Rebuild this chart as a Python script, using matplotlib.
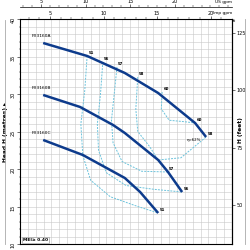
import numpy as np
import matplotlib.pyplot as plt

# pump curves, Q in m3/h, H in m
qA = [1.19, 2.31, 3.27, 4.12, 5.06, 5.34]
hA = [36.8, 35.07, 32.8, 30.13, 26.13, 24.27]
qB = [1.19, 2.13, 2.97, 3.27, 4.12, 4.37, 4.73]
hB = [29.87, 28.27, 25.87, 24.8, 21.2, 19.6, 16.93]
qC = [1.19, 2.2, 3.27, 3.66, 4.12]
hC = [23.87, 21.87, 18.8, 16.93, 14.13]
names = ["FX3160A", "FX3160B", "FX3160C"]

# iso-efficiency lines
eff_q = [
    [2.31, 2.25, 2.15, 2.2, 2.4, 2.9, 3.6, 4.12],
    [2.71, 2.65, 2.57, 2.6, 2.8, 3.3, 4.0, 4.73],
    [3.07, 3.0, 2.93, 2.97, 3.2, 3.7, 4.37],
    [3.6, 3.55, 3.6, 3.9, 4.12, 4.7, 5.34],
    [4.22, 4.2, 4.4, 4.8, 5.06],
]
eff_h = [
    [35.07, 30.5, 26.0, 21.8, 18.5, 16.3, 15.0, 14.13],
    [34.27, 30.0, 26.0, 22.5, 19.5, 17.8, 17.3, 16.93],
    [33.6, 30.0, 26.5, 23.5, 21.0, 19.7, 19.6],
    [32.27, 28.0, 25.0, 23.0, 21.2, 21.5, 24.27],
    [30.27, 28.0, 26.5, 26.3, 26.13],
]
eff_lbl = ["51", "56", "57", "58", "60"]

fig = plt.figure(figsize=(2.5, 2.5), dpi=100)
ax = fig.add_axes([0.08, 0.024, 0.848, 0.9])
navy = "#0d3b8c"
cyan = "#6cc3dc"

for q, h in zip(eff_q, eff_h):
    ax.plot(q, h, color=cyan, lw=0.7, ls=(0, (2, 1.2)), zorder=2)
for q, h, l in zip(eff_q, eff_h, eff_lbl):
    ax.text(q[0] + 0.03, h[0] + 0.3, l, fontsize=2.8, fontweight="bold", zorder=5)
    ax.text(q[-1] + 0.03, h[-1] + 0.3, l, fontsize=2.8, fontweight="bold", zorder=5)

for q, h, n in zip([qA, qB, qC], [hA, hB, hC], names):
    ax.plot(q, h, color=navy, lw=1.8, solid_capstyle="butt", zorder=4)
    ax.text(q[0] - 0.3, h[0] + 0.8, n, fontsize=3.2, zorder=5)
ax.text(4.85, 23.8, "η=62%", fontsize=2.8, zorder=5)

ax.set_xlim(0.6, 6.0)
ax.set_ylim(10, 40)
ax.set_xticks(np.arange(0.6, 6.01, 0.2))
ax.grid(True, color="#c8c8c8", lw=0.4)
ax.tick_params(axis="x", bottom=False, labelbottom=False, top=False)
ax.set_yticks(np.arange(10, 41, 5))
ax.set_yticks(np.arange(10, 41, 1), minor=True)
ax.grid(True, which="minor", axis="y", color="#c8c8c8", lw=0.4)
ax.tick_params(axis="y", which="major", labelsize=3.5, length=2, width=0.4, pad=1, labelrotation=90)
ax.tick_params(axis="y", which="minor", length=1, width=0.3)
for s in ax.spines.values():
    s.set_linewidth(0.8)
ax.set_ylabel("Head H (metres) ▸", fontsize=4.2, fontweight="bold", labelpad=2)

# top scales
imp = ax.secondary_xaxis("top", functions=(lambda x: x * 3.666, lambda x: x / 3.666))
imp.set_xticks([5, 10, 15, 20])
imp.set_xticks(np.arange(3, 23, 1), minor=True)
imp.tick_params(labelsize=3.5, length=2, width=0.4, pad=0.5)
imp.tick_params(which="minor", length=1.2, width=0.3)
imp.spines["top"].set_linewidth(0.5)
us = ax.secondary_xaxis(1.053, functions=(lambda x: x * 4.403, lambda x: x / 4.403))
us.set_xticks([5, 10, 15, 20])
us.set_xticks(np.arange(3, 27, 1), minor=True)
us.tick_params(labelsize=3.5, length=2, width=0.4, pad=0.5)
us.tick_params(which="minor", length=1.2, width=0.3)
us.spines["top"].set_linewidth(0.5)
fig.text(0.928, 0.940, "Imp gpm", fontsize=3.2, ha="right", va="bottom")
fig.text(0.928, 0.985, "US gpm", fontsize=3.2, ha="right", va="bottom")
fig.text(0.932, 0.915, "ft", fontsize=3.2, ha="left", va="center")

# feet scale
ft = ax.secondary_yaxis("right", functions=(lambda x: x * 3.2808, lambda x: x / 3.2808))
ft.set_yticks([50, 75, 100, 125])
ft.set_yticks(np.arange(35, 131, 5), minor=True)
ft.tick_params(labelsize=3.5, length=2, width=0.4, pad=1)
ft.tick_params(which="minor", length=1, width=0.3)
fig.text(0.962, 0.48, "H (feet)", fontsize=4.2, fontweight="bold", rotation=90,
         ha="center", va="center")

ax.text(0.012, 0.012, "MEI≥ 0.40", transform=ax.transAxes, fontsize=3.2,
        fontweight="bold", bbox=dict(fc="white", ec="#888888", lw=0.4, pad=0.6), zorder=6)

fig.add_artist(plt.Line2D([0.02, 0.02], [0.024, 0.92], color="#aaaaaa", lw=0.6))
fig.add_artist(plt.Line2D([0.978, 0.978], [0.024, 0.924], color="#aaaaaa", lw=0.6))

fig.savefig("out.png", dpi=100)
